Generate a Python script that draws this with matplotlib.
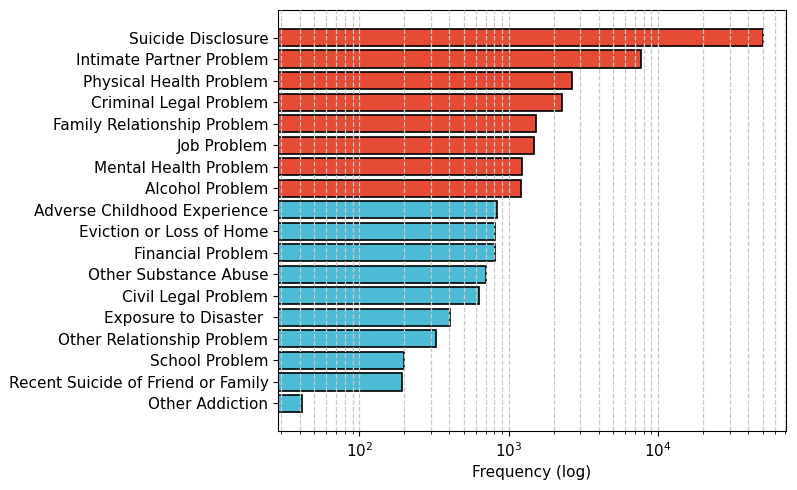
import matplotlib
matplotlib.use("Agg")
import matplotlib.pyplot as plt

categories = [
    "Suicide Disclosure", "Intimate Partner Problem", "Physical Health Problem",
    "Criminal Legal Problem", "Family Relationship Problem", "Job Problem",
    "Mental Health Problem", "Alcohol Problem", "Adverse Childhood Experience",
    "Eviction or Loss of Home", "Financial Problem", "Other Substance Abuse",
    "Civil Legal Problem", "Exposure to Disaster ", "Other Relationship Problem",
    "School Problem", "Recent Suicide of Friend or Family", "Other Addiction",
]
values = [50300, 7650, 2630, 2270, 1520, 1475, 1225, 1205, 836, 807, 803, 703,
          631, 406, 327, 198, 194, 41]
n_red = 8
red = "#E64B35"
blue = "#4DBBD5"
colors = [red] * n_red + [blue] * (len(values) - n_red)

plt.rcParams["font.size"] = 11
fig = plt.figure(figsize=(7.97, 4.90), dpi=100)
ax = fig.add_axes([0.349, 0.120, 0.637, 0.860])
ypos = list(range(len(categories)))
ax.barh(ypos, values, height=0.8, color=colors, edgecolor="black", linewidth=1.2)
ax.set_xscale("log")
ax.set_yticks(ypos)
ax.set_yticklabels(categories, fontsize=11)
ax.set_ylim(17 + 0.4 + 0.89, -0.4 - 0.89)
ax.set_xlim(28.6, 71300)
ax.set_xlabel("Frequency (log)", fontsize=11)
ax.tick_params(axis="x", labelsize=11)
ax.grid(True, axis="x", which="both", linestyle="--", color="#c8c8c8", linewidth=0.9)
ax.set_axisbelow(False)
fig.savefig("out.png", dpi=100)
